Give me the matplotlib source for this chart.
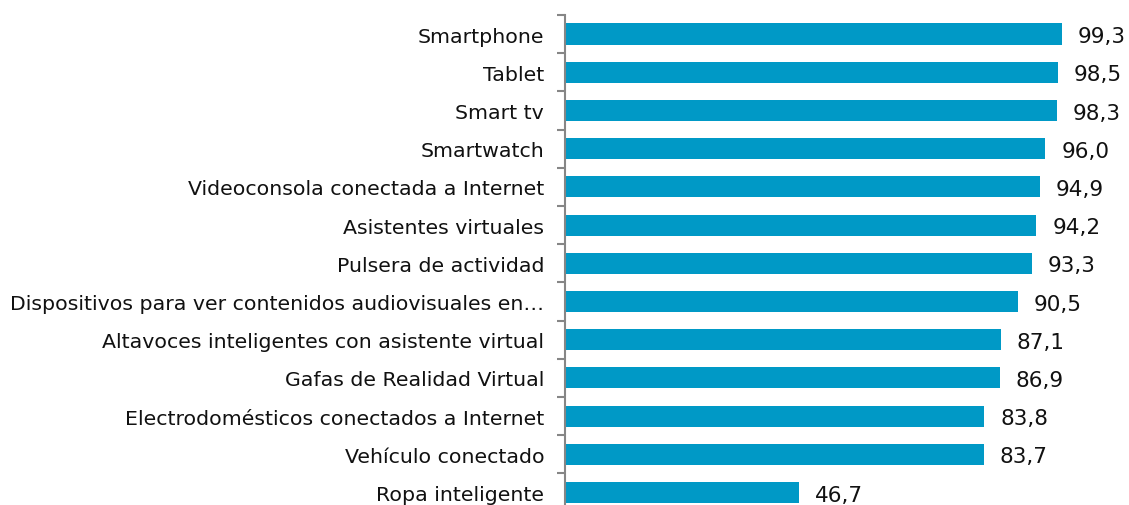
import matplotlib.pyplot as plt
import numpy as np

labels = [
    "Smartphone",
    "Tablet",
    "Smart tv",
    "Smartwatch",
    "Videoconsola conectada a Internet",
    "Asistentes virtuales",
    "Pulsera de actividad",
    "Dispositivos para ver contenidos audiovisuales en\u2026",
    "Altavoces inteligentes con asistente virtual",
    "Gafas de Realidad Virtual",
    "Electrodomésticos conectados a Internet",
    "Vehículo conectado",
    "Ropa inteligente",
]
values = [99.3, 98.5, 98.3, 96.0, 94.9, 94.2, 93.3, 90.5, 87.1, 86.9, 83.8, 83.7, 46.7]

W, H = 1129, 506
fig = plt.figure(figsize=(W / 100, H / 100), dpi=100)
top = 1 - 15.9 / H
bottom = 1 - 512.6 / H
ax = fig.add_axes([565 / W, bottom, 1 - 565 / W, top - bottom])

y = np.arange(len(labels))
ax.barh(y, values, height=0.55, color="#0099c6")
for yi, v in zip(y, values):
    ax.annotate(f"{v:.1f}".replace(".", ","), (v, yi), xytext=(11.5, -1.5),
                textcoords="offset points", ha="left", va="center",
                fontsize=15.5, color="#111111")

ax.set_ylim(len(labels) - 0.5, -0.5)
ax.set_xlim(0, 112.7)
ax.set_yticks(y)
ax.set_yticklabels(labels, fontsize=14.75, color="#111111")
ax.tick_params(axis="y", which="major", length=0, pad=15)
ax.set_yticks(np.arange(-0.5, len(labels)), minor=True)
ax.tick_params(axis="y", which="minor", length=6, width=1.5, color="#868686")
ax.set_xticks([])
for s in ["top", "right", "bottom"]:
    ax.spines[s].set_visible(False)
ax.spines["left"].set_color("#868686")
ax.spines["left"].set_linewidth(1.5)

fig.savefig("out.png", dpi=100)
